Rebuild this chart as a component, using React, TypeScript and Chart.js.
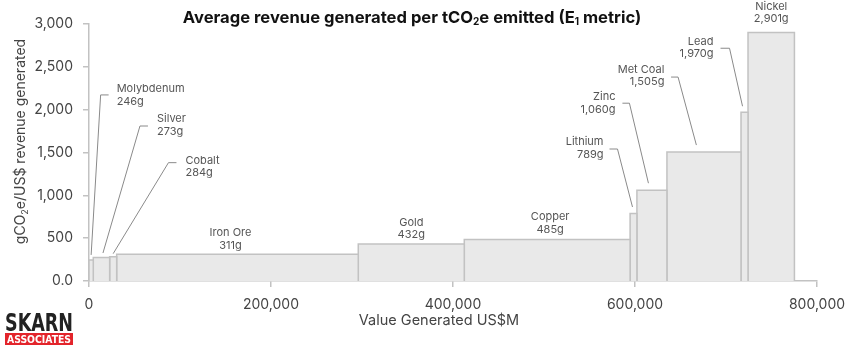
import React, { useEffect, useRef } from "react";
import { Chart, registerables } from "chart.js";

Chart.register(...registerables);

// ---- data ----
const commodities = ["Molybdenum", "Silver", "Cobalt", "Iron Ore", "Gold", "Copper", "Lithium", "Zinc", "Met Coal", "Lead", "Nickel"];
// Value generated, US$M (bar widths)
const valueGenerated = [4700, 18000, 7700, 265500, 116500, 182200, 7500, 33000, 81400, 7700, 51000];
// gCO2e / US$ revenue generated (bar heights)
const intensity = [246, 273, 284, 311, 432, 485, 789, 1060, 1505, 1970, 2901];
const xTickRange = { min: 0, max: 800000, step: 200000 };
const yTickRange = { min: 0, max: 3000, step: 500 };

// ---- label layout (pixel offsets, relative to each bar's top-centre) ----
type Leader = { kind: "leader"; end: [number, number]; elbow: [number, number]; arm: number; tdx: number; l1: number; l2: number };
type Center = { kind: "center"; dx: number; l1: number; l2: number };
const labelLayout: (Leader | Center)[] = [
  { kind: "leader", end: [0, -5], elbow: [9.5, -160], arm: 8, tdx: 16, l1: -6, l2: 7 },
  { kind: "leader", end: [1.5, -4.6], elbow: [37, -127], arm: 8, tdx: 17, l1: -7, l2: 6 },
  { kind: "leader", end: [0, -3], elbow: [55.3, -91], arm: 8, tdx: 17, l1: -2, l2: 10 },
  { kind: "center", dx: -7, l1: -21.4, l2: -8.4 },
  { kind: "center", dx: 0, l1: -21, l2: -9 },
  { kind: "center", dx: 3, l1: -22.4, l2: -9.4 },
  { kind: "leader", end: [-1, -6.4], elbow: [-15, -58], arm: -8, tdx: -14, l1: -7, l2: 6 },
  { kind: "leader", end: [-3.5, -7], elbow: [-19, -80], arm: -7, tdx: -14, l1: -7, l2: 6 },
  { kind: "leader", end: [-7.6, -7], elbow: [-18.3, -68], arm: -7, tdx: -13.7, l1: -7, l2: 5 },
  { kind: "leader", end: [-2, -6], elbow: [-13, -58], arm: -9, tdx: -16, l1: -7, l2: 5 },
  { kind: "center", dx: 0, l1: -25.5, l2: -13.5 },
];

const FONT = 'Inter, "Noto Sans", sans-serif';

function buildDatasets() {
  let start = 0;
  return commodities.map((name, i) => {
    const x0 = start;
    const x1 = start + valueGenerated[i];
    start = x1;
    const h = intensity[i];
    return {
      label: name,
      data: [
        { x: x0, y: 0 },
        { x: x0, y: h },
        { x: x1, y: h },
        { x: x1, y: 0 },
      ],
      fill: "origin",
      backgroundColor: "#e9e9e9",
      borderColor: "#c2c2c2",
      borderWidth: 1.5,
      pointRadius: 0,
      pointHoverRadius: 0,
      tension: 0,
    };
  });
}

function drawSubText(ctx: CanvasRenderingContext2D, parts: { t: string; sub?: boolean }[], font: string, subFont: string, cx: number, cy: number, subShift: number) {
  let total = 0;
  const widths = parts.map((p) => {
    ctx.font = p.sub ? subFont : font;
    const w = ctx.measureText(p.t).width;
    total += w;
    return w;
  });
  let x = cx - total / 2;
  ctx.textAlign = "left";
  ctx.textBaseline = "middle";
  parts.forEach((p, i) => {
    ctx.font = p.sub ? subFont : font;
    ctx.fillText(p.t, x, p.sub ? cy + subShift : cy);
    x += widths[i];
  });
}

const annotationPlugin = {
  id: "annotations",
  afterDraw(chart: any) {
    const ctx: CanvasRenderingContext2D = chart.ctx;
    const xs = chart.scales.x;
    const ys = chart.scales.y;
    ctx.save();

    // title
    ctx.fillStyle = "#111";
    drawSubText(
      ctx,
      [{ t: "Average revenue generated per tCO" }, { t: "2", sub: true }, { t: "e emitted (E" }, { t: "1", sub: true }, { t: " metric)" }],
      `bold 16.6px ${FONT}`,
      `bold 10px ${FONT}`,
      412,
      18,
      4
    );

    // y title
    ctx.save();
    ctx.translate(21, 141.5);
    ctx.rotate(-Math.PI / 2);
    ctx.fillStyle = "#444";
    drawSubText(ctx, [{ t: "gCO" }, { t: "2", sub: true }, { t: "e/US$ revenue generated" }], `14px ${FONT}`, `9px ${FONT}`, 0, 0, 4);
    ctx.restore();

    // x title
    ctx.fillStyle = "#444";
    ctx.font = `14.5px ${FONT}`;
    ctx.textAlign = "center";
    ctx.textBaseline = "middle";
    ctx.fillText("Value Generated US$M", 439, 321);

    // bar labels
    let start = 0;
    commodities.forEach((name, i) => {
      const x0 = start;
      const x1 = start + valueGenerated[i];
      start = x1;
      const cx = xs.getPixelForValue((x0 + x1) / 2);
      const top = ys.getPixelForValue(intensity[i]);
      const valText = intensity[i].toLocaleString("en-US") + "g";
      const lay = labelLayout[i];
      ctx.font = `11px ${FONT}`;
      ctx.fillStyle = "#555";
      ctx.textBaseline = "middle";
      if (lay.kind === "center") {
        ctx.textAlign = "center";
        ctx.fillText(name, cx + lay.dx, top + lay.l1);
        ctx.fillText(valText, cx + lay.dx, top + lay.l2);
      } else {
        const ex = cx + lay.end[0];
        const ey = top + lay.end[1];
        const bx = ex + lay.elbow[0];
        const by = ey + lay.elbow[1];
        ctx.strokeStyle = "#8a8a8a";
        ctx.lineWidth = 1;
        ctx.beginPath();
        ctx.moveTo(ex, ey);
        ctx.lineTo(bx, by);
        ctx.lineTo(bx + lay.arm, by);
        ctx.stroke();
        ctx.textAlign = lay.arm > 0 ? "left" : "right";
        ctx.fillText(name, bx + lay.tdx, by + lay.l1);
        ctx.fillText(valText, bx + lay.tdx, by + lay.l2);
      }
    });

    // logo
    ctx.fillStyle = "#222";
    ctx.font = `bold 24px "DejaVu Sans Condensed", "Liberation Sans Narrow", sans-serif`;
    ctx.textAlign = "left";
    ctx.textBaseline = "alphabetic";
    const w = ctx.measureText("SKARN").width;
    ctx.save();
    ctx.translate(5, 330.5);
    ctx.scale(68 / w, 1);
    ctx.fillText("SKARN", 0, 0);
    ctx.restore();
    ctx.fillStyle = "#e3242b";
    ctx.fillRect(5, 333, 68, 12);
    ctx.fillStyle = "#fff";
    ctx.font = `bold 10px "DejaVu Sans Condensed", "Liberation Sans Narrow", sans-serif`;
    const w2 = ctx.measureText("ASSOCIATES").width;
    ctx.save();
    ctx.translate(7, 343);
    ctx.scale(64 / w2, 1);
    ctx.fillText("ASSOCIATES", 0, 0);
    ctx.restore();

    ctx.restore();
  },
};

export default function App() {
  const ref = useRef<HTMLCanvasElement | null>(null);
  useEffect(() => {
    document.body.style.margin = "0";
    if (!ref.current) return;
    const chart = new Chart(ref.current, {
      type: "line",
      data: { datasets: buildDatasets() as any },
      options: {
        animation: false,
        responsive: false,
        devicePixelRatio: 1,
        layout: { padding: { top: 24, right: 33, left: 0, bottom: 0 } },
        plugins: { legend: { display: false }, tooltip: { enabled: false }, title: { display: false } },
        scales: {
          x: {
            type: "linear",
            z: 1,
            min: xTickRange.min,
            max: xTickRange.max,
            ticks: {
              stepSize: xTickRange.step,
              color: "#444",
              font: { family: FONT, size: 14 },
              padding: 9,
              maxRotation: 0,
              callback: (v: any) => Number(v).toLocaleString("en-US"),
            },
            grid: { drawOnChartArea: false, drawTicks: true, tickLength: 6, color: "#c2c2c2", lineWidth: 1.5 },
            border: { display: true, color: "#c2c2c2", width: 1.5 },
            afterFit: (s: any) => {
              s.height = 71;
              s.paddingLeft = 0;
              s.paddingRight = 0;
            },
          },
          y: {
            type: "linear",
            z: 1,
            min: yTickRange.min,
            max: yTickRange.max,
            ticks: {
              stepSize: yTickRange.step,
              color: "#444",
              font: { family: FONT, size: 14 },
              padding: 10,
              callback: (v: any) => (Number(v) === 0 ? "0.0" : Number(v).toLocaleString("en-US")),
            },
            grid: { drawOnChartArea: false, drawTicks: true, tickLength: 6, color: "#c2c2c2", lineWidth: 1.5 },
            border: { display: true, color: "#c2c2c2", width: 1.5 },
            afterFit: (s: any) => {
              s.width = 89;
              s.paddingTop = 0;
              s.paddingBottom = 0;
            },
          },
        },
      },
      plugins: [annotationPlugin],
    });
    return () => chart.destroy();
  }, []);
  return (
    <div style={{ width: 850, height: 352, position: "relative", background: "#fff" }}>
      <canvas ref={ref} width={850} height={352} style={{ display: "block" }} />
    </div>
  );
}
